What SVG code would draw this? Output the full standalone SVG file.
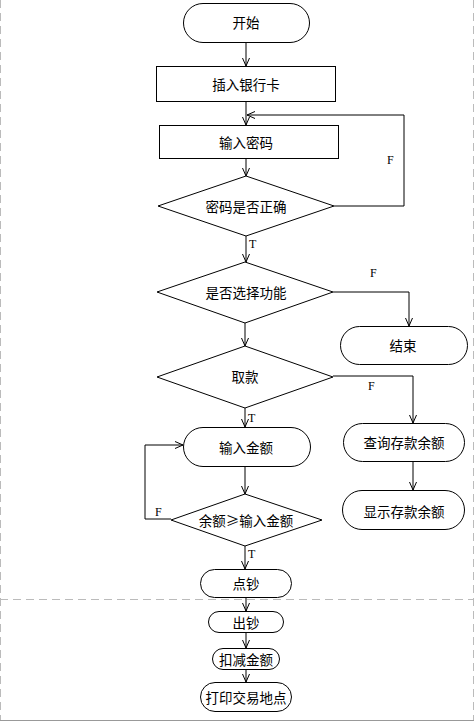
<svg xmlns="http://www.w3.org/2000/svg" width="474" height="722" viewBox="0 0 474 722">
<style>
.n{fill:#fff;stroke:#000;stroke-width:1}
.t{font-family:"Noto Sans CJK SC","Noto Sans",sans-serif;font-size:13.5px;fill:#000;text-anchor:middle;dominant-baseline:central}
.l{font-family:"Liberation Serif",serif;font-size:12px;fill:#000}
.c{fill:none;stroke:#000;stroke-width:1}
.pg{fill:none;stroke:#bbb;stroke-width:1;stroke-dasharray:8 5}
</style>
<defs>
<marker id="a" viewBox="0 0 10 10" refX="10" refY="5" markerWidth="10" markerHeight="10" markerUnits="userSpaceOnUse" orient="auto">
<polyline points="2,1.5 10,5 2,8.5" fill="none" stroke="#000" stroke-width="1"/>
</marker>
</defs>
<rect width="474" height="722" fill="#fff"/>
<g id="page">
<line class="pg" x1="0.5" y1="0" x2="0.5" y2="720"/>
<line class="pg" x1="473.5" y1="0" x2="473.5" y2="720"/>
<line class="pg" x1="0" y1="599.5" x2="474" y2="599.5"/>
<line x1="0" y1="720.5" x2="474" y2="720.5" stroke="#999" stroke-width="1"/>
</g>
<g id="connectors">
<line class="c" x1="246" y1="43" x2="246" y2="66" marker-end="url(#a)"/>
<line class="c" x1="246" y1="102" x2="246" y2="125" marker-end="url(#a)"/>
<line class="c" x1="246" y1="159" x2="246" y2="176" marker-end="url(#a)"/>
<polyline class="c" points="334,206 404,206 404,115 247,115" marker-end="url(#a)"/>
<line class="c" x1="246" y1="236" x2="246" y2="262" marker-end="url(#a)"/>
<polyline class="c" points="333,292 409,292 409,326" marker-end="url(#a)"/>
<line class="c" x1="245" y1="323" x2="245" y2="346" marker-end="url(#a)"/>
<polyline class="c" points="333,376 413,376 413,423" marker-end="url(#a)"/>
<line class="c" x1="245" y1="408" x2="245" y2="427" marker-end="url(#a)"/>
<line class="c" x1="413" y1="462" x2="413" y2="490" marker-end="url(#a)"/>
<line class="c" x1="245" y1="467" x2="245" y2="494" marker-end="url(#a)"/>
<polyline class="c" points="171,519 145,519 145,445 183,445" marker-end="url(#a)"/>
<line class="c" x1="245" y1="546" x2="245" y2="569" marker-end="url(#a)"/>
<line class="c" x1="246" y1="598" x2="246" y2="611" marker-end="url(#a)"/>
<line class="c" x1="246" y1="633" x2="246" y2="648" marker-end="url(#a)"/>
<line class="c" x1="246" y1="670" x2="246" y2="682" marker-end="url(#a)"/>
<text class="l" x="387" y="164">F</text>
<text class="l" x="249" y="248">T</text>
<text class="l" x="370" y="277">F</text>
<text class="l" x="368" y="390">F</text>
<text class="l" x="248" y="422">T</text>
<text class="l" x="155" y="516">F</text>
<text class="l" x="248" y="558">T</text>
</g>
<g id="start"><rect class="n" x="183.5" y="3.5" width="126" height="39" rx="19.5"/><text class="t" x="246" y="22">开始</text></g>
<g id="insert"><rect class="n" x="156.5" y="66.5" width="179" height="35"/><text class="t" x="246" y="84">插入银行卡</text></g>
<g id="pwd"><rect class="n" x="159.5" y="125.5" width="179" height="33"/><text class="t" x="246" y="142">输入密码</text></g>
<g id="pwdok"><polygon class="n" points="158,206 246,176 334,206 246,236"/><text class="t" x="246" y="206">密码是否正确</text></g>
<g id="func"><polygon class="n" points="157,292 245,262 333,292 245,323"/><text class="t" x="246" y="292">是否选择功能</text></g>
<g id="end"><rect class="n" x="340.5" y="326.5" width="127" height="38" rx="19"/><text class="t" x="403" y="345">结束</text></g>
<g id="withdraw"><polygon class="n" points="157,377 245,346 333,377 245,408"/><text class="t" x="245" y="376">取款</text></g>
<g id="query"><rect class="n" x="343.5" y="423.5" width="121" height="38" rx="19"/><text class="t" x="404" y="442">查询存款余额</text></g>
<g id="show"><rect class="n" x="342.5" y="490.5" width="122" height="39" rx="19.5"/><text class="t" x="404" y="511">显示存款余额</text></g>
<g id="amount"><rect class="n" x="183.5" y="427.5" width="127" height="39" rx="19.5"/><text class="t" x="246" y="447">输入金额</text></g>
<g id="check"><polygon class="n" points="171,520 245,494 322,520 245,546"/><text class="t" x="246" y="520">余额≥输入金额</text></g>
<g id="count"><rect class="n" x="200.5" y="569.5" width="91" height="28" rx="14"/><text class="t" x="246" y="583">点钞</text></g>
<g id="dispense"><rect class="n" x="208.5" y="611.5" width="75" height="21" rx="10.5"/><text class="t" x="246" y="622">出钞</text></g>
<g id="deduct"><rect class="n" x="212.5" y="648.5" width="67" height="21" rx="10.5"/><text class="t" x="246" y="659">扣减金额</text></g>
<g id="print"><rect class="n" x="200.5" y="682.5" width="91" height="29" rx="14.5"/><text class="t" x="246" y="697">打印交易地点</text></g>
</svg>
